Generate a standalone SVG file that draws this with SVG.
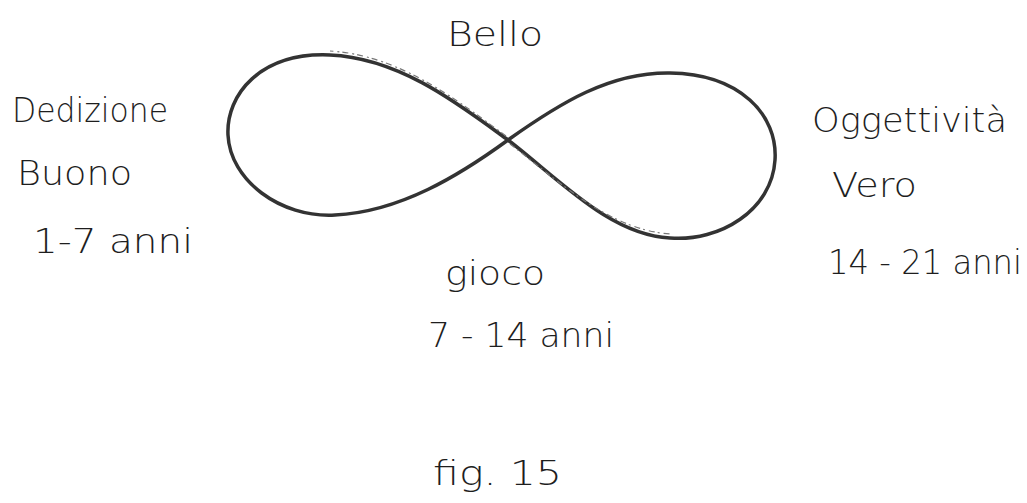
<svg xmlns="http://www.w3.org/2000/svg" width="1027" height="503" viewBox="0 0 1027 503">
  <style>
    .hand { font-family: "DejaVu Sans", "Liberation Sans", sans-serif; font-size: 33px; font-weight: 200; fill: #1e1e1e; }
    .loop { fill: none; stroke: #333333; stroke-width: 3.5; stroke-linecap: round; stroke-linejoin: round; }
    .loop2 { fill: none; stroke: #777777; stroke-width: 1.2; stroke-dasharray: 6 3 2 4; }
  </style>
  <rect x="0" y="0" width="1027" height="503" fill="#ffffff"/>
  <g id="infinity">
    <path class="loop" d="M508,140 C460,105 400,58 330,55 C260,52 226,95 228,135 C230,180 280,218 335,215 C400,212 460,175 508,140 C560,103 610,72 670,73 C740,74 778,115 775,160 C772,210 720,242 670,238 C610,235 560,180 508,140 Z"/>
    <path class="loop2" d="M506,136 C458,101 400,55 330,51 M510,144 C560,182 610,231 672,234"/>
  </g>
  <g id="bello"><text class="hand" x="447" y="46" textLength="96" lengthAdjust="spacingAndGlyphs">Bello</text></g>
  <g id="dedizione"><text class="hand" x="12" y="122" textLength="156" lengthAdjust="spacingAndGlyphs">Dedizione</text></g>
  <g id="buono"><text class="hand" x="17" y="185" textLength="115" lengthAdjust="spacingAndGlyphs">Buono</text></g>
  <g id="eta1"><text class="hand" x="33" y="253" textLength="160" lengthAdjust="spacingAndGlyphs">1-7 anni</text></g>
  <g id="oggettivita"><text class="hand" x="812" y="132" textLength="195" lengthAdjust="spacingAndGlyphs">Oggettività</text></g>
  <g id="vero"><text class="hand" x="832" y="197" textLength="85" lengthAdjust="spacingAndGlyphs">Vero</text></g>
  <g id="eta3"><text class="hand" x="828" y="274" textLength="194" lengthAdjust="spacingAndGlyphs">14 - 21 anni</text></g>
  <g id="gioco"><text class="hand" x="445" y="285" textLength="100" lengthAdjust="spacingAndGlyphs">gioco</text></g>
  <g id="eta2"><text class="hand" x="428" y="347" textLength="186" lengthAdjust="spacingAndGlyphs">7 - 14 anni</text></g>
  <g id="fig"><text class="hand" x="433" y="485" textLength="129" lengthAdjust="spacingAndGlyphs">fig. 15</text></g>
</svg>
